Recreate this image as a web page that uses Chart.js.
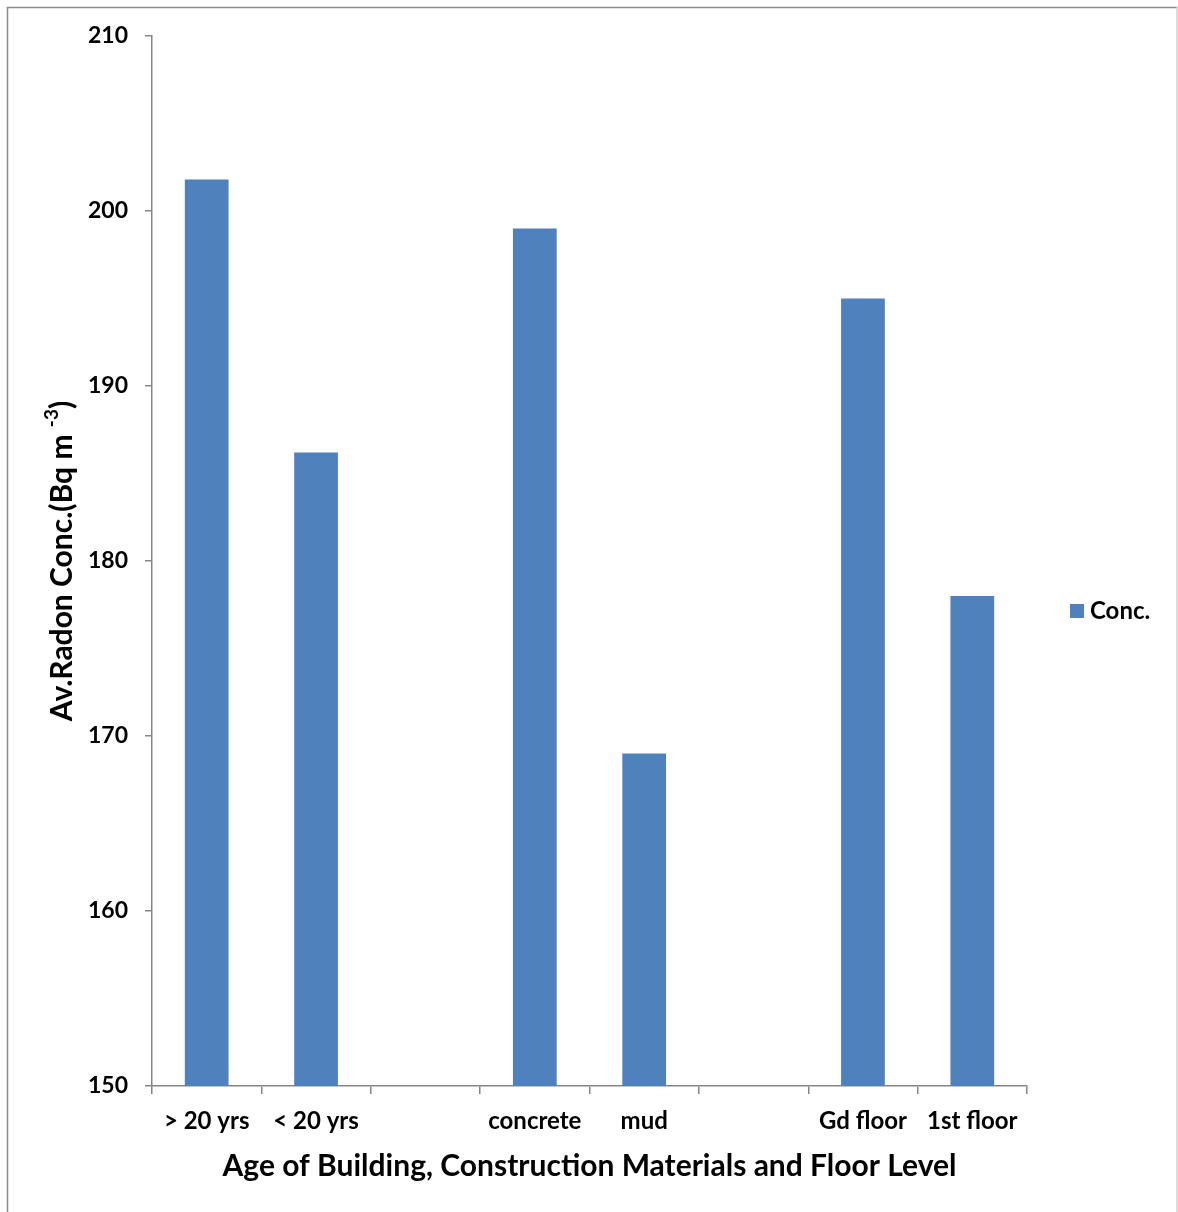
<!DOCTYPE html>
<html>
<head>
<meta charset="utf-8">
<script src="https://cdn.jsdelivr.net/npm/chart.js@4/dist/chart.umd.min.js"></script>
<style>
  html, body { margin: 0; padding: 0; background: #fff; }
  #wrap { position: relative; width: 1178px; height: 1212px; }
</style>
</head>
<body>
<div id="wrap"><canvas id="radonChart" width="1178" height="1212"></canvas></div>
<script>
// Average radon concentration by building age, material and floor
const categories = ['> 20 yrs', '< 20 yrs', '', 'concrete', 'mud', '', 'Gd floor', '1st floor'];
const concValues = [201.8, 186.2, null, 199, 169, null, 195, 178];
const yTicks = [150, 160, 170, 180, 190, 200, 210];

const barColor = '#4f81bd';
const axisColor = '#868686';
const fontFamily = 'Lato, "Open Sans", sans-serif';

// frame round the whole chart
const framePlugin = {
    id: 'frame',
    beforeDraw(chart) {
        const ctx = chart.ctx;
        ctx.save();
        ctx.fillStyle = '#fff';
        ctx.fillRect(0, 0, chart.width, chart.height);
        ctx.strokeStyle = '#8c8c8c';
        ctx.lineWidth = 1.5;
        ctx.beginPath();
        ctx.moveTo(7.5, chart.height + 2);
        ctx.lineTo(7.5, 7.5);
        ctx.lineTo(1177, 7.5);
        ctx.stroke();
        ctx.strokeStyle = '#d0d0d0';
        ctx.beginPath();
        ctx.moveTo(1177, 7.5);
        ctx.lineTo(1177, chart.height + 2);
        ctx.stroke();
        ctx.restore();
    }
};

// y title with a superscript exponent, plus the single legend entry
const textPlugin = {
    id: 'extraText',
    afterDraw(chart) {
        const ctx = chart.ctx;
        const area = chart.chartArea;
        ctx.save();
        ctx.fillStyle = '#000';

        // rotated y axis title
        const main = 'Av.Radon Conc.(Bq m ';
        const sup = '-3';
        const bigFont = 'bold 30px ' + fontFamily;
        const smallFont = 'bold 19px ' + fontFamily;
        ctx.font = bigFont;
        const wMain = ctx.measureText(main).width;
        const wClose = ctx.measureText(')').width;
        ctx.font = smallFont;
        const wSup = ctx.measureText(sup).width;
        const total = wMain + wSup + wClose;
        ctx.translate(62, (area.top + area.bottom) / 2);
        ctx.rotate(-Math.PI / 2);
        ctx.textBaseline = 'middle';
        ctx.textAlign = 'left';
        let x = -total / 2;
        ctx.font = bigFont;
        ctx.fillText(main, x, 0);
        x += wMain;
        ctx.font = smallFont;
        ctx.fillText(sup, x, -10);
        x += wSup;
        ctx.font = bigFont;
        ctx.fillText(')', x, 0);
        ctx.setTransform(1, 0, 0, 1, 0, 0);

        // legend
        const ds = chart.data.datasets[0];
        ctx.fillStyle = ds.backgroundColor;
        ctx.fillRect(1070, 604, 14, 14);
        ctx.fillStyle = '#000';
        ctx.font = 'bold 24px ' + fontFamily;
        ctx.textAlign = 'left';
        ctx.textBaseline = 'middle';
        ctx.fillText(ds.label, 1090, 611);
        ctx.restore();
    }
};

new Chart(document.getElementById('radonChart'), {
    type: 'bar',
    data: {
        labels: categories,
        datasets: [{
            label: 'Conc.',
            data: concValues,
            backgroundColor: barColor,
            borderWidth: 0,
            barPercentage: 1,
            categoryPercentage: 0.4
        }]
    },
    options: {
        responsive: false,
        animation: false,
        devicePixelRatio: 1,
        layout: { padding: { left: 0, top: 36, right: 151, bottom: 0 } },
        plugins: {
            legend: { display: false },
            tooltip: { enabled: false }
        },
        scales: {
            x: {
                offset: true,
                grid: {
                    offset: true,
                    drawOnChartArea: false,
                    drawTicks: true,
                    tickLength: 8,
                    color: axisColor,
                    lineWidth: 1.5
                },
                border: { color: axisColor, width: 1.5 },
                ticks: {
                    color: '#000',
                    font: { family: fontFamily, size: 24, weight: 'bold' },
                    padding: 13,
                    maxRotation: 0,
                    autoSkip: false
                },
                title: {
                    display: true,
                    text: 'Age of Building, Construction Materials and Floor Level',
                    color: '#000',
                    font: { family: fontFamily, size: 30, weight: 'bold' },
                    padding: { top: 4, bottom: 28 }
                },
                afterFit(scale) { scale.height = 1212 - 1086; }
            },
            y: {
                min: 150,
                max: 210,
                afterBuildTicks(scale) { scale.ticks = yTicks.map(v => ({ value: v })); },
                grid: {
                    drawOnChartArea: false,
                    drawTicks: true,
                    tickLength: 7,
                    color: axisColor,
                    lineWidth: 1.5
                },
                border: { color: axisColor, width: 1.5 },
                ticks: {
                    color: '#000',
                    font: { family: fontFamily, size: 23, weight: 'bold' },
                    padding: 17
                },
                afterFit(scale) { scale.width = 152; }
            }
        }
    },
    plugins: [framePlugin, textPlugin]
});
</script>
</body>
</html>
